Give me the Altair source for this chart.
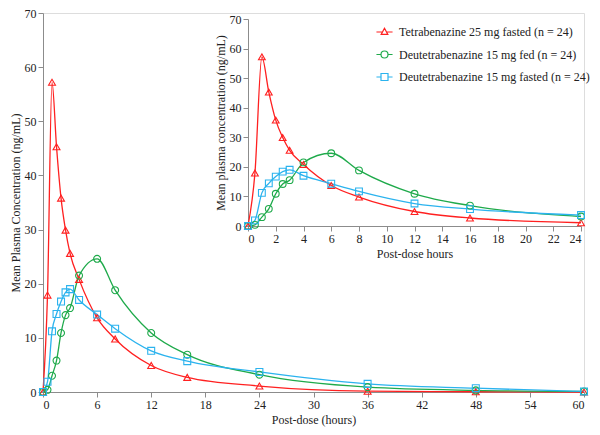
import altair as alt
import pandas as pd

# ---- data ----
times = [0, 0.5, 1, 1.5, 2, 2.5, 3, 4, 6, 8, 12, 16, 24, 36, 48, 60]
tetrabenazine_fasted = [0, 17.9, 57.2, 45.3, 35.8, 29.9, 25.6, 20.8, 13.7, 9.8, 4.9, 2.7, 1.1, 0.15, 0.05, 0]
deutetrabenazine_fed = [0, 0.4, 3.0, 5.8, 10.9, 14.2, 15.5, 21.5, 24.6, 18.8, 10.9, 6.9, 3.2, 0.9, 0.3, 0.1]
deutetrabenazine_fasted = [0, 1.9, 11.2, 14.4, 16.7, 18.4, 19.0, 17.0, 14.3, 11.7, 7.6, 5.7, 3.7, 1.5, 0.7, 0.1]

series_names = [
    "Tetrabenazine 25 mg fasted (n = 24)",
    "Deutetrabenazine 15 mg fed (n = 24)",
    "Deutetrabenazine 15 mg fasted (n = 24)",
]
series_colors = ["#FF2020", "#1FAA4B", "#2BB3EE"]
series_shapes = ["triangle-up", "circle", "square"]
legend_shapes = [
    "M-2.3,0H-0.57M0.57,0H2.3M0,-1.05L0.95,0.7L-0.95,0.7Z",
    "M-2.3,0H-1M1,0H2.3M-1,0A1,1 0 1,0 1,0A1,1 0 1,0 -1,0",
    "M-2.3,0H-1M1,0H2.3M-1,-1H1V1H-1Z",
]

main_x_ticks = list(range(0, 61, 6))
inset_x_ticks = list(range(0, 25, 2))
y_ticks = list(range(0, 71, 10))
inset_max_time = 24

rows = []
for name, vals in zip(series_names, [tetrabenazine_fasted, deutetrabenazine_fed, deutetrabenazine_fasted]):
    for t, v in zip(times, vals):
        rows.append({"time": t, "conc": v, "series": name})
df = pd.DataFrame(rows)
inset_df = df[df["time"] <= inset_max_time]
legend_df = pd.DataFrame({"series": series_names})

# ---- layout ----
W, H = 541, 379
INSET_XR = [205, 538]
INSET_YR = [213, 6]
FONT = "Liberation Serif"
AXIS_GRAY = "#8c8c8c"

axis_style = dict(
    labelFont=FONT, labelFontSize=12, labelColor="#222222",
    titleFont=FONT, titleFontSize=12, titleColor="#222222", titleFontWeight="normal",
    domainColor=AXIS_GRAY, tickColor=AXIS_GRAY, tickSize=5, grid=False,
    labelPadding=2,
)

color_scale = alt.Scale(domain=series_names, range=series_colors)
shape_scale = alt.Scale(domain=series_names, range=series_shapes)

# main chart
mx = alt.X("time:Q", scale=alt.Scale(domain=[0, 60], nice=False, zero=False),
           axis=alt.Axis(values=main_x_ticks, title="Post-dose (hours)", titlePadding=4, **axis_style))
my = alt.Y("conc:Q", scale=alt.Scale(domain=[0, 70], nice=False),
           axis=alt.Axis(values=y_ticks, title="Mean Plasma Concentration (ng/mL)", titlePadding=2, **axis_style))

main_lines = alt.Chart(df).mark_line(interpolate="monotone", strokeWidth=1.3).encode(
    x=mx, y=my, color=alt.Color("series:N", scale=color_scale, legend=None))
main_points = alt.Chart(df).mark_point(filled=False, size=48, strokeWidth=1.1, opacity=1).encode(
    x=mx, y=my, color=alt.Color("series:N", scale=color_scale, legend=None),
    shape=alt.Shape("series:N", scale=shape_scale, legend=None))
main = alt.layer(main_lines, main_points)

# inset chart
ix = alt.X("time:Q", scale=alt.Scale(domain=[0, 24], range=INSET_XR, nice=False, zero=False),
           axis=alt.Axis(orient="bottom", offset=INSET_YR[0] - H, values=inset_x_ticks,
                         title="Post-dose hours", titlePadding=4, **axis_style))
iy = alt.Y("conc:Q", scale=alt.Scale(domain=[0, 70], range=INSET_YR, nice=False),
           axis=alt.Axis(orient="left", offset=-INSET_XR[0], values=y_ticks,
                         title="Mean plasma concentration (ng/mL)", titlePadding=2, **axis_style))

inset_lines = alt.Chart(inset_df).mark_line(interpolate="monotone", strokeWidth=1.3).encode(
    x=ix, y=iy, color=alt.Color("series:N", scale=color_scale, legend=None))
inset_points = alt.Chart(inset_df).mark_point(filled=False, size=46, strokeWidth=1.1, opacity=1).encode(
    x=ix, y=iy, color=alt.Color("series:N", scale=color_scale, legend=None),
    shape=alt.Shape("series:N", scale=shape_scale, legend=None))
inset = alt.layer(inset_lines, inset_points)

# legend layer
leg = alt.Legend(
    title=None, orient="none", legendX=335.5, legendY=13,
    labelFont=FONT, labelFontSize=12, labelColor="#222222", labelOffset=8.5, labelLimit=400,
    symbolSize=49, symbolStrokeWidth=1.2, symbolOpacity=1, symbolFillColor="transparent",
    rowPadding=10.5,
)
legend_layer = alt.Chart(legend_df).mark_point(filled=False, opacity=0).encode(
    color=alt.Color("series:N", scale=color_scale, legend=leg),
    shape=alt.Shape("series:N", scale=alt.Scale(domain=series_names, range=legend_shapes), legend=leg),
)

chart = alt.layer(main, inset, legend_layer).resolve_scale(
    x="independent", y="independent", color="independent", shape="independent"
).properties(
    width=W, height=H,
    autosize=alt.AutoSizeParams(type="none"),
    padding={"left": 35, "top": 5, "right": 8, "bottom": 35},
).configure_view(stroke=None).configure(background="white")

chart.save("out.html", embed_options={"renderer": "svg", "actions": False})
